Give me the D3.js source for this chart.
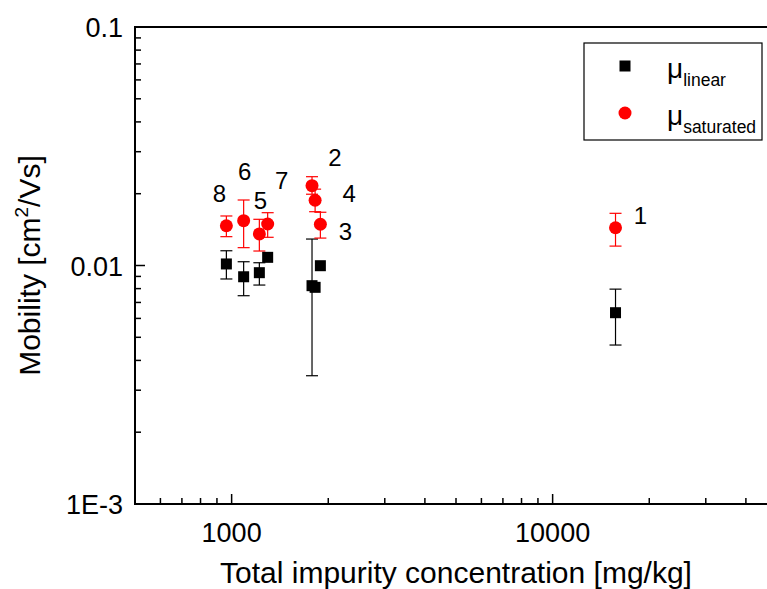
<!DOCTYPE html>
<html>
<head>
<meta charset="utf-8">
<script src="https://cdn.jsdelivr.net/npm/d3@7"></script>
<style>
  body { margin: 0; background: #fff; }
  text { font-family: "Liberation Sans", Arial, sans-serif; }
</style>
</head>
<body>
<script>
// sample numbers (labels in the plot)
var sampleIds = ['1', '2', '3', '4', '5', '6', '7', '8'];
// total impurity concentration [mg/kg]
var concentration = [15700, 1780, 1890, 1820, 1220, 1090, 1295, 963];
// mu linear + error bounds
var muLinear = [0.00634, 0.00823, 0.00998, 0.0081, 0.00933, 0.00897, 0.01082, 0.01015];
var muLinearLow = [0.00464, 0.00345, 0.00998, 0.0081, 0.00828, 0.00747, 0.01082, 0.00878];
var muLinearHigh = [0.00796, 0.01291, 0.00998, 0.0081, 0.01027, 0.01037, 0.01082, 0.01153];
// mu saturated + error bounds
var muSat = [0.0144, 0.02161, 0.01489, 0.01877, 0.01356, 0.01541, 0.01493, 0.01468];
var muSatLow = [0.01206, 0.0199, 0.01303, 0.01681, 0.0115, 0.01188, 0.01313, 0.01321];
var muSatHigh = [0.01655, 0.02357, 0.01672, 0.0209, 0.01562, 0.01882, 0.01665, 0.01613];

var xMajor = [1000, 10000];
var yMajor = [0.001, 0.01, 0.1];
var yTickText = ['1E-3', '0.01', '0.1'];

var width = 767, height = 589;
var pLeft = 135, pRight = 777, pTop = 27, pBottom = 504;

var svg = d3.select('body').append('svg')
  .attr('width', width)
  .attr('height', height);

var x = d3.scaleLog().domain([500, 50000]).range([pLeft, pRight]);
var y = d3.scaleLog().domain([0.001, 0.1]).range([pBottom, pTop]);

// ticks 1..9 of each decade
var decadeTicks = (lo, hi) => {
  let res = [];
  for (let p = lo; p < hi; p *= 10) {
    for (let k = 1; k < 10; k++) res.push(+(p * k).toPrecision(6));
  }
  return res;
};

var xTicks = decadeTicks(100, 100000).filter(v => v > 500 && v < 50000);
var yTicks = decadeTicks(0.001, 0.1).filter(v => v > 0.001 && v < 0.1);

// x ticks, pointing inward
svg.append('g').selectAll('line')
  .data(xTicks)
  .enter().append('line')
  .attr('x1', d => x(d)).attr('x2', d => x(d))
  .attr('y1', pBottom)
  .attr('y2', d => pBottom - (xMajor.indexOf(d) > -1 ? 10 : 6))
  .attr('stroke', '#000').attr('stroke-width', 1.5);

// y ticks
svg.append('g').selectAll('line')
  .data(yTicks)
  .enter().append('line')
  .attr('y1', d => y(d)).attr('y2', d => y(d))
  .attr('x1', pLeft)
  .attr('x2', d => pLeft + (yMajor.indexOf(d) > -1 ? 10 : 6))
  .attr('stroke', '#000').attr('stroke-width', 1.5);

// frame
svg.append('rect')
  .attr('x', pLeft).attr('y', pTop)
  .attr('width', pRight - pLeft).attr('height', pBottom - pTop)
  .attr('fill', 'none').attr('stroke', '#000').attr('stroke-width', 2);

// tick labels
svg.append('g').selectAll('text')
  .data(xMajor)
  .enter().append('text')
  .attr('x', d => x(d)).attr('y', pBottom + 38)
  .attr('text-anchor', 'middle')
  .attr('font-size', 27)
  .text(d => d);

svg.append('g').selectAll('text')
  .data(yMajor)
  .enter().append('text')
  .attr('x', pLeft - 12).attr('y', d => y(d) + 10)
  .attr('text-anchor', 'end')
  .attr('font-size', 27)
  .text((d, i) => yTickText[i]);

// axis titles
svg.append('text')
  .attr('x', (pLeft + pRight) / 2).attr('y', 583)
  .attr('text-anchor', 'middle')
  .attr('font-size', 30)
  .text('Total impurity concentration [mg/kg]');

var yt = svg.append('text')
  .attr('transform', 'translate(40,' + ((pTop + pBottom) / 2) + ') rotate(-90)')
  .attr('text-anchor', 'middle')
  .attr('font-size', 30);
yt.append('tspan').text('Mobility [cm');
yt.append('tspan').attr('font-size', 19).attr('dy', -12).text('2');
yt.append('tspan').attr('dy', 12).text('/Vs]');

// error bars
var errorBars = (lo, hi, color) => {
  var g = svg.append('g').attr('stroke', color).attr('stroke-width', 1.2);
  concentration.forEach((c, i) => {
    if (hi[i] - lo[i] <= 0) return;
    var cx = x(c);
    g.append('line').attr('x1', cx).attr('x2', cx).attr('y1', y(lo[i])).attr('y2', y(hi[i]));
    g.append('line').attr('x1', cx - 6).attr('x2', cx + 6).attr('y1', y(lo[i])).attr('y2', y(lo[i]));
    g.append('line').attr('x1', cx - 6).attr('x2', cx + 6).attr('y1', y(hi[i])).attr('y2', y(hi[i]));
  });
};
errorBars(muLinearLow, muLinearHigh, '#000');
errorBars(muSatLow, muSatHigh, '#ff0000');

// markers
svg.append('g').selectAll('rect')
  .data(concentration)
  .enter().append('rect')
  .attr('x', (d) => x(d) - 5.5)
  .attr('y', (d, i) => y(muLinear[i]) - 5.5)
  .attr('width', 11).attr('height', 11)
  .attr('fill', '#000');

svg.append('g').selectAll('circle')
  .data(concentration)
  .enter().append('circle')
  .attr('cx', d => x(d))
  .attr('cy', (d, i) => y(muSat[i]))
  .attr('r', 6.5)
  .attr('fill', '#ff0000');

// sample number labels, offset from the red point
var labelOffset = {
  '1': [25, -13], '2': [23, -29], '3': [25, 7], '4': [34, -7],
  '5': [1, -34], '6': [1, -50], '7': [14, -44], '8': [-7, -33]
};
svg.append('g').selectAll('text')
  .data(sampleIds)
  .enter().append('text')
  .attr('x', (d, i) => x(concentration[i]) + labelOffset[d][0])
  .attr('y', (d, i) => y(muSat[i]) + labelOffset[d][1] + 9)
  .attr('text-anchor', 'middle')
  .attr('font-size', 24)
  .text(d => d);

// legend
var lg = svg.append('g');
lg.append('rect')
  .attr('x', 584).attr('y', 43)
  .attr('width', 178).attr('height', 97)
  .attr('fill', '#fff').attr('stroke', '#000').attr('stroke-width', 1.2);
lg.append('rect').attr('x', 619.5).attr('y', 60.5).attr('width', 11).attr('height', 11).attr('fill', '#000');
lg.append('circle').attr('cx', 625).attr('cy', 113).attr('r', 6.5).attr('fill', '#ff0000');
var legendText = [['linear', 78], ['saturated', 125]];
legendText.forEach(d => {
  var t = lg.append('text').attr('x', 667).attr('y', d[1]).attr('font-size', 28);
  t.append('tspan').text('\u03bc');
  t.append('tspan').attr('font-size', 17.5).attr('dy', 8).text(d[0]);
});
</script>
</body>
</html>
